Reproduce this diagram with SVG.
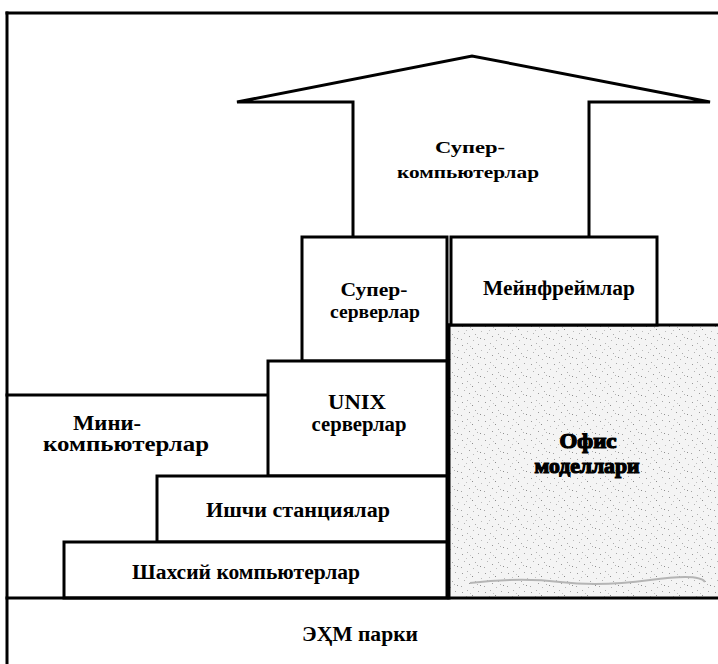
<svg xmlns="http://www.w3.org/2000/svg" width="718" height="664" viewBox="0 0 718 664">
<style>
.ln{fill:none;stroke:#000;stroke-width:3;stroke-linecap:square}
.bx{fill:#fff;stroke:#000;stroke-width:3}
.t{font-family:"Liberation Serif","DejaVu Serif",serif;font-weight:bold;font-size:20px;fill:#000;text-anchor:middle}
.sm{font-size:17px}
.ss{font-size:18px}
.heavy{stroke:#000;stroke-width:1.2}
</style>
<defs>
<pattern id="speck" width="23" height="19" patternUnits="userSpaceOnUse">
<rect width="23" height="19" fill="#f4f4f4"/>
<rect x="2" y="3" width="1" height="1" fill="#9a9a9a"/>
<rect x="7" y="1" width="1" height="1" fill="#b0b0b0"/>
<rect x="12" y="6" width="1" height="1" fill="#8c8c8c"/>
<rect x="18" y="2" width="1" height="1" fill="#a8a8a8"/>
<rect x="4" y="10" width="1" height="1" fill="#b4b4b4"/>
<rect x="9" y="13" width="1" height="1" fill="#999"/>
<rect x="15" y="11" width="1" height="1" fill="#aaa"/>
<rect x="20" y="15" width="1" height="1" fill="#8e8e8e"/>
<rect x="1" y="16" width="1" height="1" fill="#a4a4a4"/>
<rect x="13" y="17" width="1" height="1" fill="#b8b8b8"/>
<rect x="6" y="7" width="1" height="1" fill="#c0c0c0"/>
<rect x="21" y="8" width="1" height="1" fill="#bcbcbc"/>
<rect x="10" y="4" width="1" height="1" fill="#c4c4c4"/>
<rect x="17" y="14" width="1" height="1" fill="#b2b2b2"/>
</pattern>
</defs>
<rect width="718" height="664" fill="#fff"/>

<g id="frame">
<line class="ln" x1="7" y1="13" x2="718" y2="13"/>
<line class="ln" x1="7" y1="13" x2="7" y2="664"/>
</g>

<g id="supercomputers">
<path class="ln" d="M353,237 V102 H237 L472,56 L710,102 H589 V237" stroke-width="3.5" stroke-linejoin="miter"/>
<text class="t sm" x="470" y="153" textLength="70" lengthAdjust="spacingAndGlyphs">Супер-</text>
<text class="t sm" x="468" y="178" textLength="142" lengthAdjust="spacingAndGlyphs">компьютерлар</text>
</g>

<g id="office-models">
<rect x="449" y="325" width="269" height="273" fill="url(#speck)"/>
<path d="M470,583 Q520,577 560,582 T650,580 T705,582" fill="none" stroke="#b5b5b5" stroke-width="2"/>
<line class="ln" x1="449" y1="325" x2="718" y2="325"/>
<text class="t heavy" x="588" y="448" textLength="57" lengthAdjust="spacingAndGlyphs">Офис</text>
<text class="t heavy" x="587" y="473" textLength="105" lengthAdjust="spacingAndGlyphs">моделлари</text>
</g>

<g id="super-servers">
<rect class="bx" x="302" y="237" width="145" height="124"/>
<text class="t ss" x="374" y="296" textLength="67" lengthAdjust="spacingAndGlyphs">Супер-</text>
<text class="t ss" x="375" y="318" textLength="90" lengthAdjust="spacingAndGlyphs">серверлар</text>
</g>

<g id="mainframes">
<rect class="bx" x="451" y="237" width="206" height="88"/>
<text class="t" x="559" y="295" textLength="152" lengthAdjust="spacingAndGlyphs">Мейнфреймлар</text>
</g>

<g id="minicomputers">
<line class="ln" x1="7" y1="395" x2="268" y2="395"/>
<text class="t" x="107" y="430" textLength="68" lengthAdjust="spacingAndGlyphs">Мини-</text>
<text class="t" x="126" y="451" textLength="166" lengthAdjust="spacingAndGlyphs">компьютерлар</text>
</g>

<g id="unix-servers">
<rect class="bx" x="268" y="361" width="179" height="115"/>
<text class="t" x="357" y="409" textLength="58" lengthAdjust="spacingAndGlyphs">UNIX</text>
<text class="t" x="359" y="431" textLength="95" lengthAdjust="spacingAndGlyphs">серверлар</text>
</g>

<g id="workstations">
<rect class="bx" x="157" y="476" width="290" height="66"/>
<text class="t" x="298" y="517" textLength="184" lengthAdjust="spacingAndGlyphs">Ишчи станциялар</text>
</g>

<g id="personal-computers">
<rect class="bx" x="64" y="542" width="383" height="56"/>
<text class="t" x="246" y="579" textLength="228" lengthAdjust="spacingAndGlyphs">Шахсий компьютерлар</text>
</g>

<g id="park">
<line class="ln" x1="449" y1="325" x2="449" y2="598"/>
<line class="ln" x1="7" y1="598" x2="718" y2="598"/>
<text class="t" x="360" y="641" textLength="116" lengthAdjust="spacingAndGlyphs">ЭҲМ парки</text>
</g>
</svg>
